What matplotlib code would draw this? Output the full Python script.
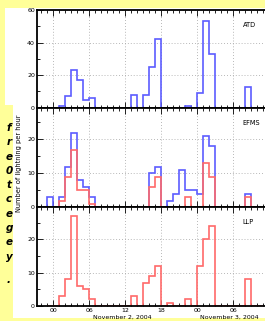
import numpy as np
import matplotlib
matplotlib.use('Agg')
import matplotlib.pyplot as plt
from matplotlib.patches import Rectangle
from matplotlib.ticker import MultipleLocator, FuncFormatter

# hourly bins starting at hour -1 (Nov 1, 23h) up to hour 34 (Nov 3, 10h)
edges = np.arange(-1, 36)

atd = [0, 0, 1, 7, 23, 17, 5, 6, 0, 0, 0, 0, 0, 0, 8, 0, 8, 25, 42,
       0, 0, 0, 0, 1, 0, 9, 53, 33, 0, 0, 0, 0, 0, 13, 0, 0]
efms_all = [3, 0, 3, 12, 22, 8, 6, 3, 0, 0, 0, 0, 0, 0, 0, 0, 0, 10, 12,
            0, 2, 4, 11, 5, 5, 4, 21, 18, 0, 0, 0, 0, 0, 4, 0, 0]
efms_cg = [0, 0, 2, 9, 17, 5, 5, 1, 0, 0, 0, 0, 0, 0, 0, 0, 0, 6, 9,
           0, 0, 0, 0, 3, 0, 0, 13, 9, 0, 0, 0, 0, 0, 3, 0, 0]
llp = [0, 0, 3, 8, 27, 6, 5, 2, 0, 0, 0, 0, 0, 0, 3, 0, 7, 9, 12,
       0, 1, 0, 0, 2, 0, 12, 20, 24, 0, 0, 0, 0, 0, 8, 0, 0]

panel_names = ['ATD', 'EFMS', 'LLP']
yticks = [[0, 20, 40, 60], [0, 10, 20], [0, 10, 20]]
ylims = [60, 29.3, 29.6]
side_letters = ['f', 'r', 'e', '0', 't', 'c', 'e', 'g', 'e', 'y', '.']

BLUE = '#5c5cff'
RED = '#ff6a6a'
W, H = 265, 321

fig = plt.figure(figsize=(W / 100, H / 100), dpi=100, facecolor='#ffff99')
fig.patches.append(Rectangle((5 / W, 3 / H), 1, (H - 11) / H, transform=fig.transFigure,
                             facecolor='white', edgecolor='none', zorder=-10))
fig.patches.append(Rectangle((0, 3 / H), 13 / W, (H - 108) / H, transform=fig.transFigure,
                             facecolor='#ffff99', edgecolor='none', zorder=-9))

left = 37 / W
width = (266 - 37) / W
boxes = [(10, 107.7), (107.7, 207.3), (207.3, 306)]
axes = []
for (top, bot) in boxes:
    ax = fig.add_axes([left, 1 - bot / H, width, (bot - top) / H])
    axes.append(ax)

for i, ax in enumerate(axes):
    ax.set_xlim(-2.67, 35.5)
    ax.set_ylim(0, ylims[i])
    ax.xaxis.set_major_locator(MultipleLocator(6))
    ax.xaxis.set_minor_locator(MultipleLocator(1))
    ax.set_yticks(yticks[i])
    ax.yaxis.set_minor_locator(MultipleLocator(yticks[i][1] / 2))
    ax.tick_params(which='both', direction='in', top=True, bottom=True,
                   width=0.6, labelsize=4.5, pad=1.5)
    ax.tick_params(which='major', length=4)
    ax.tick_params(which='minor', length=2)
    ax.grid(True, which='major', linestyle=(0, (1, 2.5)), color='#a0a0a0', linewidth=0.6)
    ax.set_axisbelow(True)
    for s in ax.spines.values():
        s.set_linewidth(1.3)
        s.set_zorder(5)
    ax.text(0.898, 0.85, panel_names[i], transform=ax.transAxes, fontsize=4.8,
            ha='left', va='center')
    if i < 2:
        ax.tick_params(labelbottom=False)

axes[0].stairs(atd, edges, color=BLUE, linewidth=1.2)
axes[1].stairs(efms_all, edges, color=BLUE, linewidth=1.2)
axes[1].stairs(efms_cg, edges, color=RED, linewidth=1.2)
axes[2].stairs(llp, edges, color=RED, linewidth=1.2)

axes[2].xaxis.set_major_formatter(FuncFormatter(lambda v, p: '%02d' % (int(round(v)) % 24)))

fig.text(93 / W, 1 - 317 / H, 'November 2, 2004', fontsize=4.5, ha='left', va='center')
fig.text(200 / W, 1 - 317 / H, 'November 3, 2004', fontsize=4.5, ha='left', va='center')
fig.text(19 / W, 1 - 163 / H, 'Number of lightning per hour', fontsize=4.8,
         rotation=90, ha='center', va='center')

for k, ch in enumerate(side_letters):
    y = 128 + 14.3 * k
    if ch == '.':
        y = 280
    fig.text(9 / W, 1 - y / H, ch, fontsize=7.5, fontweight='bold', style='italic',
             ha='center', va='center')

fig.savefig('out.png', dpi=100, facecolor=fig.get_facecolor())
